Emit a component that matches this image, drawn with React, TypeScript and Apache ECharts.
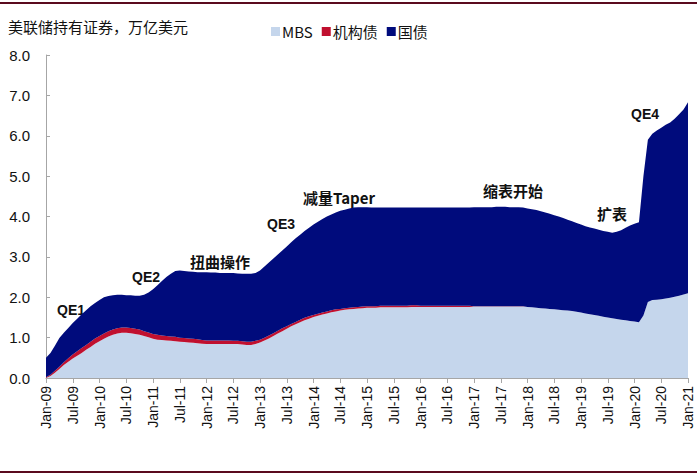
import React, { useEffect, useRef } from "react";
import * as echarts from "echarts";

// Month labels Jan-09 .. Jan-21
const monthNames = ["Jan", "Feb", "Mar", "Apr", "May", "Jun", "Jul", "Aug", "Sep", "Oct", "Nov", "Dec"];
const categories: string[] = [];
for (let y = 9; y <= 21; y++) {
  for (let m = 0; m < 12; m++) {
    if (y === 21 && m > 0) break;
    categories.push(`${monthNames[m]}-${String(y).padStart(2, "0")}`);
  }
}

// MBS holdings, trillion USD (monthly, Jan-09 .. Jan-21)
const mbs = [
  0.00, 0.05, 0.13, 0.22, 0.32, 0.40, 0.48, 0.55, 0.62, 0.70, 0.77, 0.85,
  0.91, 0.97, 1.03, 1.07, 1.10, 1.12, 1.12, 1.11, 1.09, 1.07, 1.04, 1.01,
  0.97, 0.95, 0.94, 0.93, 0.92, 0.91, 0.90, 0.89, 0.88, 0.87, 0.86, 0.85,
  0.84, 0.84, 0.84, 0.84, 0.84, 0.84, 0.84, 0.84, 0.83, 0.82, 0.82, 0.84,
  0.88, 0.93, 0.98, 1.04, 1.10, 1.16, 1.22, 1.28, 1.33, 1.38, 1.43, 1.47,
  1.51, 1.54, 1.57, 1.60, 1.63, 1.65, 1.67, 1.69, 1.70, 1.71, 1.72, 1.73,
  1.74, 1.74, 1.74, 1.75, 1.75, 1.75, 1.75, 1.75, 1.75, 1.75, 1.76, 1.76,
  1.76, 1.76, 1.76, 1.76, 1.76, 1.76, 1.76, 1.76, 1.76, 1.76, 1.76, 1.76,
  1.77, 1.77, 1.77, 1.77, 1.77, 1.77, 1.77, 1.77, 1.77, 1.77, 1.77, 1.77,
  1.76, 1.75, 1.74, 1.73, 1.72, 1.71, 1.70, 1.69, 1.68, 1.67, 1.66, 1.64,
  1.62, 1.60, 1.58, 1.56, 1.54, 1.52, 1.50, 1.48, 1.46, 1.44, 1.43, 1.41,
  1.40, 1.38, 1.55, 1.88, 1.93, 1.94, 1.95, 1.97, 1.99, 2.01, 2.04, 2.07,
  2.10,
];

// Agency debt holdings, trillion USD
const agency = [
  0.02, 0.03, 0.05, 0.06, 0.07, 0.09, 0.10, 0.11, 0.12, 0.12, 0.13, 0.13,
  0.13, 0.13, 0.13, 0.13, 0.13, 0.13, 0.13, 0.13, 0.13, 0.13, 0.12, 0.12,
  0.12, 0.12, 0.11, 0.11, 0.11, 0.11, 0.10, 0.10, 0.10, 0.10, 0.10, 0.09,
  0.09, 0.09, 0.09, 0.09, 0.09, 0.09, 0.08, 0.08, 0.08, 0.08, 0.08, 0.08,
  0.07, 0.07, 0.07, 0.07, 0.07, 0.07, 0.06, 0.06, 0.06, 0.06, 0.06, 0.06,
  0.05, 0.05, 0.05, 0.05, 0.05, 0.05, 0.04, 0.04, 0.04, 0.04, 0.04, 0.04,
  0.04, 0.04, 0.04, 0.04, 0.04, 0.04, 0.04, 0.04, 0.04, 0.04, 0.04, 0.04,
  0.03, 0.03, 0.03, 0.03, 0.03, 0.03, 0.03, 0.03, 0.03, 0.03, 0.03, 0.03,
  0.01, 0.01, 0.01, 0.01, 0.01, 0.01, 0.01, 0.01, 0.01, 0.01, 0.01, 0.01,
  0.00, 0.00, 0.00, 0.00, 0.00, 0.00, 0.00, 0.00, 0.00, 0.00, 0.00, 0.00,
  0.00, 0.00, 0.00, 0.00, 0.00, 0.00, 0.00, 0.00, 0.00, 0.00, 0.00, 0.00,
  0.00, 0.00, 0.00, 0.00, 0.00, 0.00, 0.00, 0.00, 0.00, 0.00, 0.00, 0.00,
  0.00,
];

// Treasury holdings, trillion USD
const treasury = [
  0.48, 0.54, 0.62, 0.71, 0.73, 0.75, 0.78, 0.81, 0.84, 0.86, 0.88, 0.88,
  0.89, 0.90, 0.87, 0.85, 0.83, 0.81, 0.80, 0.81, 0.82, 0.84, 0.90, 0.99,
  1.11, 1.23, 1.35, 1.46, 1.55, 1.63, 1.66, 1.66, 1.66, 1.66, 1.66, 1.68,
  1.69, 1.68, 1.68, 1.67, 1.67, 1.67, 1.68, 1.67, 1.67, 1.68, 1.68, 1.68,
  1.71, 1.76, 1.81, 1.85, 1.89, 1.93, 1.98, 2.02, 2.07, 2.11, 2.15, 2.19,
  2.24, 2.28, 2.32, 2.35, 2.37, 2.40, 2.43, 2.44, 2.46, 2.47, 2.47, 2.46,
  2.45, 2.44, 2.44, 2.43, 2.43, 2.43, 2.43, 2.43, 2.43, 2.43, 2.42, 2.42,
  2.43, 2.43, 2.43, 2.43, 2.43, 2.43, 2.43, 2.43, 2.43, 2.43, 2.43, 2.43,
  2.45, 2.45, 2.45, 2.45, 2.45, 2.46, 2.46, 2.46, 2.45, 2.45, 2.45, 2.44,
  2.44, 2.43, 2.42, 2.40, 2.38, 2.36, 2.33, 2.31, 2.28, 2.25, 2.22, 2.20,
  2.18, 2.16, 2.15, 2.14, 2.13, 2.12, 2.12, 2.12, 2.16, 2.22, 2.29, 2.37,
  2.42, 2.48, 3.45, 4.02, 4.12, 4.19, 4.25, 4.30, 4.34, 4.41, 4.49, 4.58,
  4.73,
];

const yTicks = [0, 1, 2, 3, 4, 5, 6, 7, 8];

const annotations = [
  { text: "QE1", x: 71, y: 310, cjk: false },
  { text: "QE2", x: 146, y: 277, cjk: false },
  { text: "扭曲操作", x: 220, y: 261, cjk: true },
  { text: "QE3", x: 281, y: 224, cjk: false },
  { text: "减量Taper", x: 339, y: 197, cjk: true },
  { text: "缩表开始", x: 513, y: 190, cjk: true },
  { text: "扩表", x: 612, y: 213, cjk: true },
  { text: "QE4", x: 645, y: 114, cjk: false },
];

const COLORS = { mbs: "#c5d6ec", agency: "#c0102f", treasury: "#000b7c" };

export default function App() {
  const ref = useRef<HTMLDivElement>(null);
  useEffect(() => {
    document.body.style.margin = "0";
    if (!ref.current) return;
    const chart = echarts.init(ref.current, null, { renderer: "svg" });
    const latin = "'Liberation Sans', Arial, sans-serif";
    const cjk = "'Noto Sans CJK SC', 'Liberation Sans', sans-serif";
    const areaSeries = (name: string, data: number[], color: string) => ({
      name,
      type: "line",
      stack: "total",
      data,
      showSymbol: false,
      symbol: "none",
      lineStyle: { width: 0 },
      itemStyle: { color },
      areaStyle: { color, opacity: 1 },
      emphasis: { disabled: true },
    });
    chart.setOption({
      animation: false,
      backgroundColor: "#ffffff",
      grid: { left: 46, right: 9, top: 55, bottom: 97, containLabel: false },
      legend: {
        left: 266,
        top: 19,
        icon: "rect",
        itemWidth: 9,
        itemHeight: 9,
        itemGap: 9,
        textStyle: { fontSize: 15, color: "#111", fontFamily: cjk, padding: [0, 0, 0, -3] },
        data: ["MBS", "机构债", "国债"],
      },
      xAxis: {
        type: "category",
        data: categories,
        boundaryGap: false,
        axisLine: { lineStyle: { color: "#a6a6a6", width: 1 } },
        axisTick: { show: true, interval: 5, length: 5, lineStyle: { color: "#a6a6a6" } },
        axisLabel: {
          interval: 5,
          rotate: 90,
          margin: 8,
          fontSize: 14,
          color: "#111",
          fontFamily: latin,
        },
        splitLine: { show: false },
      },
      yAxis: {
        type: "value",
        min: yTicks[0],
        max: yTicks[yTicks.length - 1],
        interval: 1,
        axisLine: { show: true, lineStyle: { color: "#a6a6a6", width: 1 } },
        axisTick: { show: true, inside: true, length: 4, lineStyle: { color: "#a6a6a6" } },
        axisLabel: {
          margin: 16,
          fontSize: 15,
          color: "#111",
          fontFamily: latin,
          formatter: (v: number) => v.toFixed(1),
        },
        splitLine: { show: false },
      },
      series: [
        areaSeries("MBS", mbs, COLORS.mbs),
        areaSeries("机构债", agency, COLORS.agency),
        areaSeries("国债", treasury, COLORS.treasury),
      ],
      graphic: [
        { type: "rect", left: 0, top: 2, shape: { width: 697, height: 2 }, style: { fill: "#5a0a1e" } },
        { type: "rect", left: 0, top: 471, shape: { width: 697, height: 2 }, style: { fill: "#5a0a1e" } },
        {
          type: "text",
          left: 8,
          top: 19,
          style: { text: "美联储持有证券，万亿美元", fontSize: 15, fill: "#111", fontFamily: cjk },
        },
        ...annotations.map((a) => ({
          type: "text",
          x: a.x,
          y: a.y,
          style: {
            text: a.text,
            fontSize: a.cjk ? 15 : 14,
            fontWeight: "bold",
            fill: "#111",
            fontFamily: a.cjk ? cjk : latin,
            align: "center",
            verticalAlign: "middle",
          },
        })),
      ],
    });
    return () => chart.dispose();
  }, []);
  return <div ref={ref} style={{ width: 697, height: 475 }} />;
}
